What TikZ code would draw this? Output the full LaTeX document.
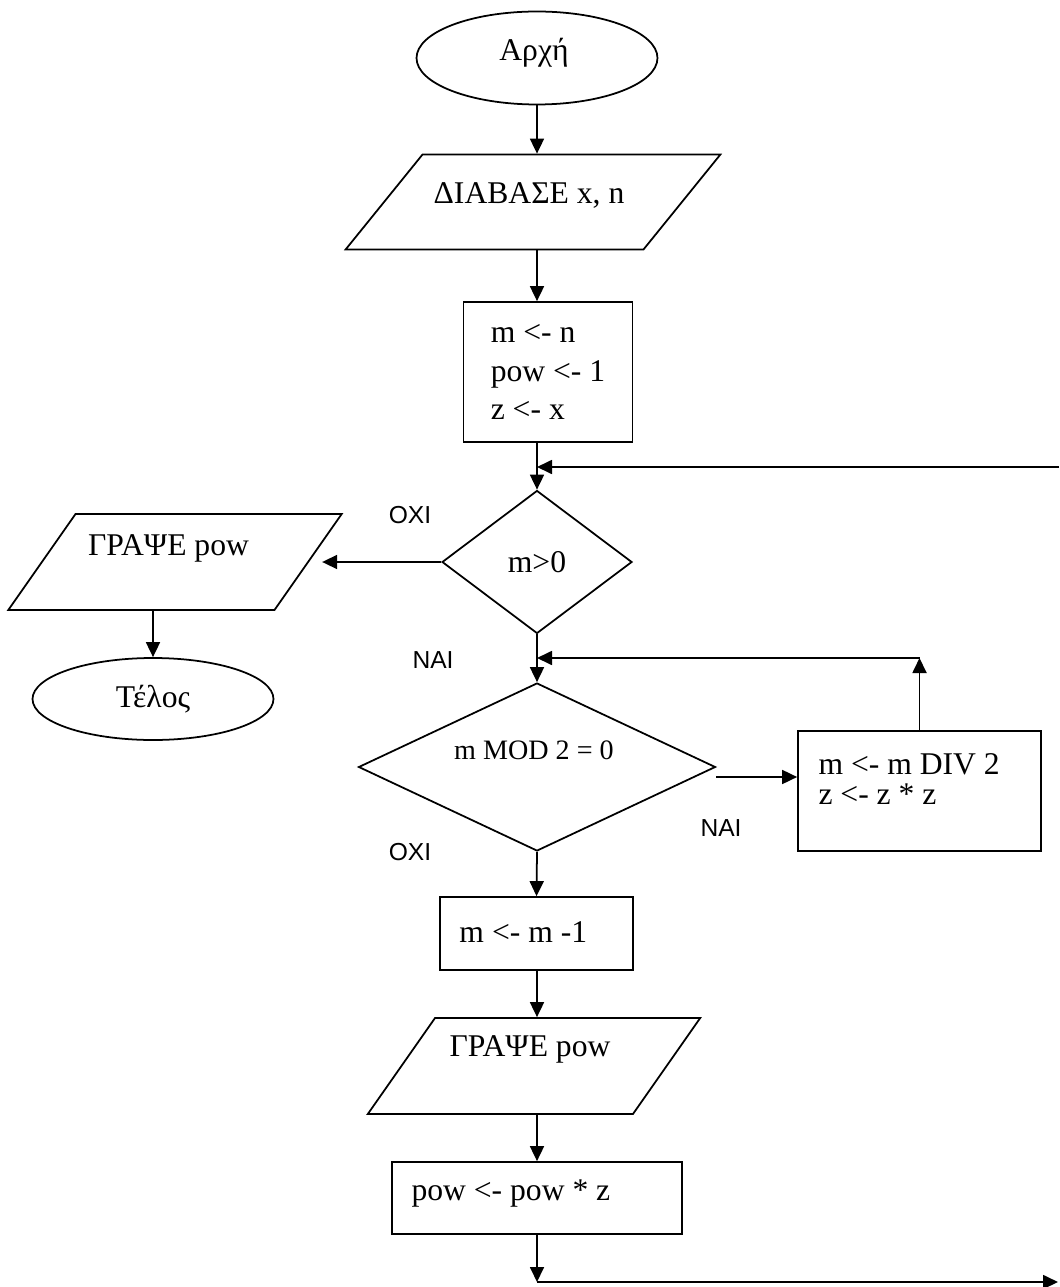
\documentclass[tikz,border=0pt]{standalone}
\usepackage{fontspec}
\setmainfont{Liberation Serif}
\newfontfamily\labelfont{Liberation Sans}
\usepackage{tikz}
\usetikzlibrary{shapes.geometric, arrows.meta, positioning}
\tikzstyle{io} = [trapezium, draw=black, line width=1pt, inner ysep=0.96cm]
\tikzstyle{arrow} = [line width=1pt, -{Triangle[length=0.3cm, width=0.28cm]}]

\begin{document}
\begin{tikzpicture}[x=0.02cm, y=-0.02cm,
    terminal/.style={ellipse, draw=black, line width=1pt, inner sep=0pt},
    process/.style={rectangle, draw=black, line width=1pt, align=left},
    decision/.style={diamond, draw=black, line width=1pt, inner sep=0pt},
    txt/.style={font=\fontsize{18}{21}\selectfont},
    small/.style={font=\fontsize{16}{19}\selectfont},
    answer/.style={font=\labelfont\fontsize{14}{16}\selectfont}
]
\useasboundingbox (0,0) rectangle (1059,1287);

% Start and input
\node[terminal, minimum width=4.82cm, minimum height=1.86cm] (start) at (537,58) {};
\node[txt] (starttxt) at ([xshift=-0.06cm, yshift=0.1cm]start.center) {Αρχή};
\node[io, trapezium left angle=51, trapezium right angle=129, inner xsep=2.21cm, inner ysep=0.95cm] (read) at (533,202) {};
\node[txt] (readtxt) at ([xshift=-0.08cm, yshift=0.14cm]read.center) {ΔΙΑΒΑΣΕ x, n};

% Initial values
\node[process, font=\fontsize{18}{22}\selectfont, minimum width=3.38cm, minimum height=2.8cm] (init) at (548,372) {m <- n\\pow <- 1\\z <- x};

% Outer test
\node[decision, txt, minimum width=3.8cm, minimum height=2.86cm] (cond1) at (537,562) {m>0};
\node[io, trapezium left angle=55, trapezium right angle=125, inner xsep=1.99cm] (out1) at (175,562) {};
\node[txt] (out1txt) at ([xshift=-0.13cm, yshift=0.28cm]out1.center) {ΓΡΑΨΕ pow};
\node[terminal, txt, minimum width=4.82cm, minimum height=1.64cm] (end) at (153,699) {Τέλος};

% Inner test
\node[decision, minimum width=7.14cm, minimum height=3.36cm] (cond2) at (537,767) {};
\node[small] (cond2txt) at ([xshift=-0.06cm, yshift=0.34cm]cond2.center) {m MOD 2 = 0};
\node[process, minimum width=4.86cm, minimum height=2.4cm] (halve) at (919.5,791) {};
\node[anchor=west, align=left, inner sep=0pt, font=\fontsize{18}{17}\selectfont] (halvetxt) at ([xshift=0.42cm, yshift=0.24cm]halve.west) {m <- m DIV 2\\z <- z * z};

% Odd branch
\node[process, minimum width=3.86cm, minimum height=1.46cm] (dec) at (536.5,933.5) {};
\node[txt, anchor=west, inner sep=0pt] (dectxt) at ([xshift=0.4cm, yshift=0.03cm]dec.west) {m <- m -1};
\node[io, trapezium left angle=55, trapezium right angle=125, inner xsep=1.98cm] (out2) at (534,1066) {};
\node[txt] (out2txt) at ([xshift=-0.08cm, yshift=0.34cm]out2.center) {ΓΡΑΨΕ pow};
\node[process, minimum width=5.8cm, minimum height=1.44cm] (mult) at (537,1198) {};
\node[txt, anchor=west, inner sep=0pt] (multtxt) at ([xshift=0.4cm, yshift=0.1cm]mult.west) {pow <- pow * z};

% Loop points
\coordinate (join1) at (537,467);
\coordinate (loopT) at (1059,467);
\coordinate (join2) at (537,658);
\coordinate (loopB) at (537,1282);
\coordinate (loopR) at (1058,1282);

% Yes / no labels
\node[answer] (no1) at (410,515) {ΟΧΙ};
\node[answer] (yes1) at (433,660) {ΝΑΙ};
\node[answer] (yes2) at (721,828) {ΝΑΙ};
\node[answer] (no2) at (410,852) {ΟΧΙ};

% Connectors
\draw[arrow] (start.south) -- (start.south |- read.north);
\draw[arrow] (start.south |- read.south) -- (start.south |- init.north);
\draw[arrow] (start.south |- init.south) -- (cond1.north);
\draw[arrow] (loopT) -- (join1);
\draw[arrow, shorten >=0.26cm] (cond1.west) -- (out1.east);
\draw[arrow] (end.north |- out1.south) -- (end.north);
\draw[arrow] (cond1.south) -- (cond2.north);
\draw[arrow] (halve.north) -- (halve.north |- join2);
\draw[arrow] (halve.north |- join2) -- (join2);
\draw[arrow] ([yshift=-0.2cm]cond2.east) -- ([yshift=-0.2cm]cond2.east -| halve.west);
\draw[arrow] (cond2.south) -- (dec.north);
\draw[arrow] (cond2.south |- dec.south) -- (cond2.south |- out2.north);
\draw[arrow] (cond2.south |- out2.south) -- (mult.north);
\draw[arrow] (mult.south) -- (loopB);
\draw[arrow] (loopB) -- (loopR);

\end{tikzpicture}
\end{document}
